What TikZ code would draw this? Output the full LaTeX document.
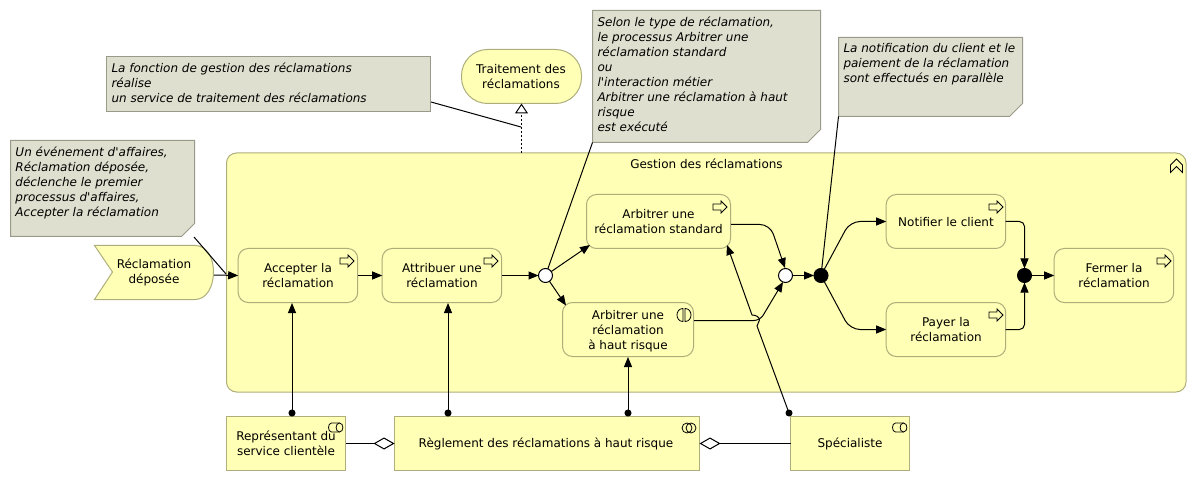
\documentclass[tikz,border=0pt]{standalone}
\usepackage{fontspec}
\setmainfont{DejaVu Sans}
\usetikzlibrary{arrows.meta,calc}
\definecolor{fillY}{HTML}{FFFFB5}
\definecolor{edgeY}{HTML}{AEAE7C}
\definecolor{noteF}{HTML}{DFDFCF}
\definecolor{noteE}{HTML}{9A9A8A}
\tikzset{
  x=1pt,y=-1pt,
  every node/.style={font=\fontsize{12}{15}\selectfont,align=center,inner sep=0pt,outer sep=0pt},
  proc/.style={draw=edgeY,fill=fillY,rounded corners=10pt,line width=1pt},
  rol/.style={draw=edgeY,fill=fillY,line width=1pt},
  flow/.style={line width=1pt,-{Triangle[length=10pt,width=8pt]}},
  asg/.style={line width=1pt,{Circle[length=7pt,width=7pt]}-{Triangle[length=10pt,width=8pt]}},
  notelink/.style={line width=1pt},
  agg/.style={line width=1pt,{Diamond[open,fill=white,length=21pt,width=12pt]}-},
  junc/.style={circle,draw=black,line width=1pt,minimum size=14pt},
  ico/.style={line width=.8pt,draw=black,fill=none},
  notefrm/.style={draw=noteE,fill=noteF,line width=1pt},
}
\newcommand{\qs}{\textquotesingle}
\newcommand{\notetxt}[4]{% name,w,h,text
  \node[anchor=north west,inner sep=0pt] (#1T) at (#1.north west) {\parbox[t][#3pt][t]{#2pt}{\raggedright\itshape\leftskip=5pt\vspace{6pt}#4}};
}
\newcommand{\notebox}[6]{% name,x,y,w,h,text : note with a cut corner
  \node[anchor=north west,minimum width=#4pt,minimum height=#5pt] (#1) at (#2,#3) {};
  \draw[notefrm] (#1.north west) -- (#1.north east) -- ($(#1.south east)+(0,-13)$) -- ($(#1.south east)+(-13,0)$) -- (#1.south west) -- cycle;
  \notetxt{#1}{#4}{#5}{#6}
}
\newcommand{\procarrow}[2]{% x,y of tip
  \draw[ico,fill=fillY] (#1-14,#2-3) -- (#1-6,#2-3) -- (#1-6,#2-6) -- (#1,#2) -- (#1-6,#2+6) -- (#1-6,#2+3) -- (#1-14,#2+3) -- cycle;
}
\newcommand{\roleicon}[2]{% x,y right end, centre height
  \draw[ico] (#1-3.5,#2-4.5) -- (#1-11.5,#2-4.5) .. controls (#1-15.5,#2-4.5) and (#1-15.5,#2+4.5) .. (#1-11.5,#2+4.5) -- (#1-3.5,#2+4.5);
  \draw[ico] (#1-3.5,#2-4.5) .. controls (#1+1,#2-4.5) and (#1+1,#2+4.5) .. (#1-3.5,#2+4.5) .. controls (#1-8,#2+4.5) and (#1-8,#2-4.5) .. (#1-3.5,#2-4.5) -- cycle;
}
\begin{document}
\begin{tikzpicture}
\useasboundingbox (0,0) rectangle (1197,481);
% group
\node[draw=edgeY,fill=fillY,rounded corners=10pt,line width=1pt,anchor=north west,minimum width=959.5pt,minimum height=239pt] (grp) at (226.5,153) {};
\node at (706.5,164) {Gestion des réclamations};
\draw[ico] (1170.5,172.5) -- (1170.5,165) -- (1176.5,159) -- (1182.5,165) -- (1182.5,172.5) -- (1176.5,166.5) -- cycle;
% service
\node[draw=edgeY,fill=fillY,rounded corners=26pt,line width=1pt,anchor=north west,minimum width=120pt,minimum height=54pt] (svc) at (461.5,49.5) {};
\node at (521,76.5) {Traitement des\\réclamations};
% event
\draw[draw=edgeY,fill=fillY,line width=1pt] (94.5,245.5) -- (195,245.5) .. controls (207,245.5) and (213.5,258) .. (213.5,272) .. controls (213.5,286) and (207,299.5) .. (195,299.5) -- (94.5,299.5) -- (112.5,272) -- cycle;
\coordinate (evE) at (214,275);
\node at (154,272) {Réclamation\\déposée};
% processes
\node[proc,anchor=north west,minimum width=119.5pt,minimum height=54pt] (acc) at (238.2,248.5) {};
\node at (298,276) {Accepter la\\réclamation};
\procarrow{354}{261}
\node[proc,anchor=north west,minimum width=119.5pt,minimum height=54pt] (att) at (382.2,248.5) {};
\node at (442,276) {Attribuer une\\réclamation};
\procarrow{498}{261}
\node[proc,anchor=north west,minimum width=144pt,minimum height=54pt] (std) at (586.5,194.5) {};
\node at (658.5,222) {Arbitrer une\\réclamation standard};
\procarrow{727}{207}
\node[proc,anchor=north west,minimum width=131pt,minimum height=54pt] (hau) at (562.5,302.5) {};
\node at (628,331) {Arbitrer une\\réclamation\\à haut risque};
\draw[ico] (683,308.5) .. controls (675,308.5) and (675,321.5) .. (683,321.5) -- cycle;
\draw[ico] (685,308.5) .. controls (693,308.5) and (693,321.5) .. (685,321.5) -- cycle;
\node[proc,anchor=north west,minimum width=119.5pt,minimum height=54pt] (not) at (886.2,194.5) {};
\node at (946,222) {Notifier le client};
\procarrow{1003}{207}
\node[proc,anchor=north west,minimum width=119.5pt,minimum height=54pt] (pay) at (886.2,302.5) {};
\node at (946,330) {Payer la\\réclamation};
\procarrow{1003}{315}
\node[proc,anchor=north west,minimum width=119.5pt,minimum height=54pt] (fer) at (1054.2,248.5) {};
\node at (1114,276) {Fermer la\\réclamation};
\procarrow{1171}{261}
% junctions
\node[junc,fill=white] (j1) at (545.5,275.5) {};
\node[junc,fill=white] (j2) at (785.5,275.5) {};
\node[junc,fill=black] (j3) at (821,275.5) {};
\node[junc,fill=black] (j4) at (1024.5,275.5) {};
% roles
\node[rol,anchor=north west,minimum width=119pt,minimum height=54pt] (rep) at (226.5,416.5) {};
\node at (286,443) {Représentant du\\service clientèle};
\roleicon{343}{427.5}
\node[rol,anchor=north west,minimum width=305pt,minimum height=54pt] (reg) at (394.5,416.5) {};
\node at (546,443.5) {Règlement des réclamations à haut risque};
\draw[ico] (687,428) ellipse [x radius=5pt,y radius=5pt];
\draw[ico] (691,428) ellipse [x radius=5pt,y radius=5pt];
\node[rol,anchor=north west,minimum width=119pt,minimum height=54pt] (spe) at (790.5,416.5) {};
\node at (850,443.5) {Spécialiste};
\roleicon{907}{427.5}
% flows
\draw[flow] (evE) -- (acc.west);
\draw[flow] (acc.east) -- (att.west);
\draw[flow] (att.east) -- (j1.west);
\coordinate (stdIn) at (590,245);
\coordinate (hauIn) at (566,305.5);
\draw[flow] (j1) -- (stdIn);
\draw[flow] (j1) -- (hauIn);
\coordinate (stdOut) at (731,224.5);
\coordinate (hauOut) at (694,320.5);
\draw[flow,rounded corners=10pt] (stdOut) -- (770,224.5) -- (785,268);
\draw[flow] (j2.east) -- (j3.west);
\draw[flow,rounded corners=10pt] (j3) -- (850,221.5) -- (not.west);
\draw[flow,rounded corners=10pt] (j3) -- (850,329.5) -- (pay.west);
\draw[flow,rounded corners=5pt] (not.east) -- (1024.5,221.5) -- (j4.north);
\draw[flow,rounded corners=5pt] (pay.east) -- (1024.5,329.5) -- (j4.south);
\draw[flow] (j4.east) -- (fer.west);
\draw[flow,rounded corners=6pt] (hauOut) -- (760,320.5) -- (783,282);
% assignments
\coordinate (d1) at (292,416.5);\coordinate (d2) at (448,416.5);\coordinate (d3) at (628,416.5);\coordinate (d4) at (789,413);
\coordinate (a1) at (292,303);\coordinate (a2) at (448,303);\coordinate (a3) at (628,357);\coordinate (a4) at (727,245);
\draw[asg] (d1) -- (a1);
\draw[asg] (d2) -- (a2);
\draw[asg] (d3) -- (a3);
\draw[line width=1pt] (d4) -- (757,326) -- (759.5,320) .. controls (759.5,317) and (756,315) .. (752,315);
\draw[flow] (752,315) -- (a4);
\fill (d4) circle [radius=3.5pt];
% aggregation
\draw[agg] (reg.west) -- (rep.east);
\draw[agg] (reg.east) -- (spe.west);
% notes
\notebox{n1}{10.5}{140.5}{184}{96}{Un événement d\qs affaires,\\Réclamation déposée,\\déclenche le premier\\processus d\qs affaires,\\Accepter la réclamation}
\node[anchor=north west,minimum width=323.5pt,minimum height=55pt] (n2) at (106.5,56.5) {};
\draw[notefrm] (n2.north west) rectangle (n2.south east);
\notetxt{n2}{323.5}{55}{La fonction de gestion des réclamations\\réalise\\un service de traitement des réclamations}
\notebox{n3}{592.5}{10.5}{228}{132}{Selon le type de réclamation,\\le processus Arbitrer une\\réclamation standard\\ou\\l\qs interaction métier\\Arbitrer une réclamation à haut\\risque\\est exécuté}
\notebox{n4}{838.5}{37.5}{184}{79}{La notification du client et le\\paiement de la réclamation\\sont effectués en parallèle}
% note links
\coordinate (l1) at (194,237);\coordinate (l1e) at (226,274);
\draw[notelink] (l1) -- (l1e);
\coordinate (l2) at (431,102);\coordinate (l2e) at (521,127);
\draw[notelink] (l2) -- (l2e);
\draw[notelink] (n3.south west) -- (j1);
\draw[notelink] (n4.south west) -- (j3);
% realization
\draw[line width=1pt,dash pattern=on 2pt off 2pt,-{Triangle[open,fill=white,length=10pt,width=13pt]}] (grp.north -| svc.south) -- (svc.south);
\end{tikzpicture}
\end{document}
